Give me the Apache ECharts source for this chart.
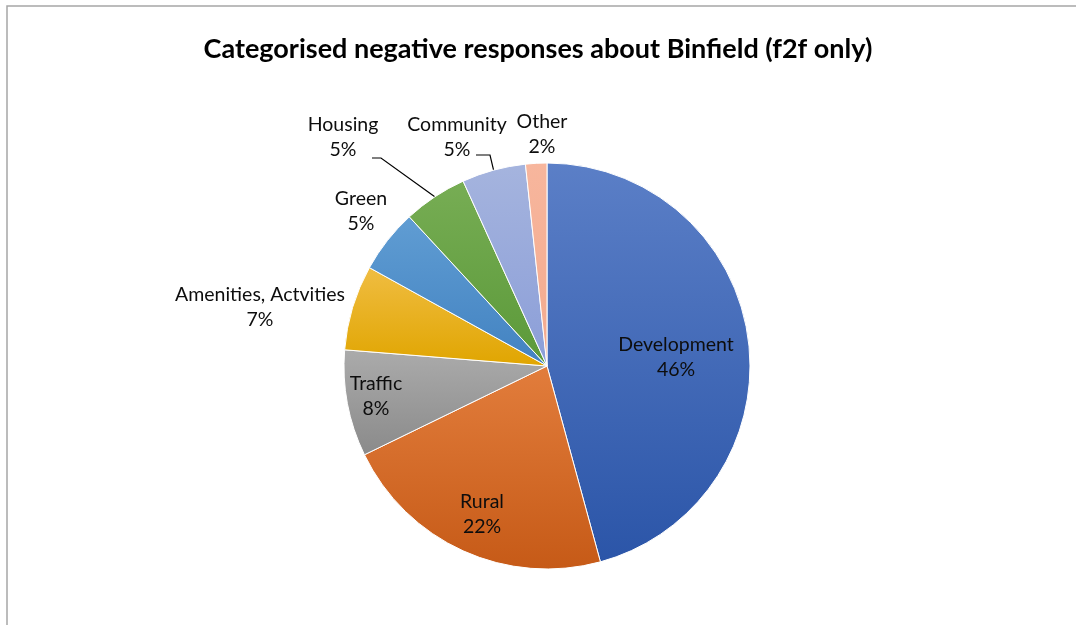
<!DOCTYPE html>
<html>
<head>
<meta charset="utf-8">
<script src="https://cdn.jsdelivr.net/npm/echarts@6/dist/echarts.min.js"></script>
<style>
html,body{margin:0;padding:0;background:#fff;}
#c{width:1076px;height:625px;}
</style>
</head>
<body>
<div id="c"></div>
<script>
// ---- data ----
const categories = ['Development', 'Rural', 'Traffic', 'Amenities, Actvities', 'Green', 'Housing', 'Community', 'Other'];
const counts = [27, 13, 5, 4, 3, 3, 3, 1];
const titleText = 'Categorised negative responses about Binfield (f2f only)';

// ---- style ----
const gradients = [
  ['#5b7fc7', '#2b55a8'],
  ['#e27d3c', '#c65a17'],
  ['#ababab', '#8a8a8a'],
  ['#f0bd42', '#e0a500'],
  ['#609dd3', '#4282c1'],
  ['#77ad54', '#5b9939'],
  ['#a5b4de', '#8b9ed8'],
  ['#f7b69d', '#f3aa8e']
];
const insideSet = {0: true, 1: true, 2: true};
const lineSet = {5: true, 6: true};
// label centre offsets from the pie centre (px)
const labelOffsets = [
  [129, -9], [-65, 148], [-171, 30], [-287, -59],
  [-186, -155], [-204, -229], [-90, -229], [-5, -232]
];
// label line elbow/end offsets relative to label centre
const lineEnds = {
  5: [[38, 21], [29, 21]],
  6: [[33, 18], [19, 18]]
};
const CX = 547, CY = 366, R = 203;
const FONT = 'Lato, "Open Sans", sans-serif';

const total = counts.reduce((a, b) => a + b, 0);
function midAngle(i) {
  let s = 0;
  for (let k = 0; k < i; k++) s += counts[k];
  return ((s + counts[i] / 2) / total) * Math.PI * 2;
}

const seriesData = categories.map((name, i) => ({
  name: name,
  value: counts[i],
  itemStyle: {
    color: {
      type: 'linear', x: 0, y: 0, x2: 0, y2: 1,
      colorStops: [{offset: 0, color: gradients[i][0]}, {offset: 1, color: gradients[i][1]}]
    }
  },
  label: {position: insideSet[i] ? 'inside' : 'outside'},
  labelLine: {show: !!lineSet[i]}
}));

const chart = echarts.init(document.getElementById('c'), null, {renderer: 'canvas'});
chart.setOption({
  backgroundColor: '#ffffff',
  animation: false,
  title: {
    text: titleText,
    left: 'center',
    top: 31,
    textStyle: {fontFamily: FONT, fontWeight: 'bold', fontSize: 27, color: '#000'}
  },
  graphic: [{
    type: 'rect',
    shape: {x: 7, y: 6, width: 1200, height: 800},
    style: {fill: 'none', stroke: '#a6a6a6', lineWidth: 1.5},
    silent: true
  }],
  series: [{
    type: 'pie',
    center: [CX, CY],
    radius: [0, R],
    startAngle: 90,
    clockwise: true,
    avoidLabelOverlap: false,
    data: seriesData,
    itemStyle: {borderColor: '#ffffff', borderWidth: 1},
    label: {
      show: true,
      fontFamily: FONT,
      fontSize: 19.5,
      color: '#0d0d0d',
      lineHeight: 25,
      align: 'center',
      formatter: p => p.name + '\n' + Math.round(p.percent) + '%'
    },
    labelLine: {lineStyle: {color: '#000', width: 1.2}, length: 10, length2: 10},
    labelLayout: function (p) {
      const i = p.dataIndex;
      const lx = CX + labelOffsets[i][0];
      const ly = CY + labelOffsets[i][1];
      const res = {x: lx, y: ly, align: 'center', verticalAlign: 'middle'};
      if (lineSet[i]) {
        const a = midAngle(i);
        const sx = CX + R * Math.sin(a);
        const sy = CY - R * Math.cos(a);
        res.labelLinePoints = [
          [sx, sy],
          [lx + lineEnds[i][0][0], ly + lineEnds[i][0][1]],
          [lx + lineEnds[i][1][0], ly + lineEnds[i][1][1]]
        ];
      }
      return res;
    }
  }]
});
</script>
</body>
</html>
